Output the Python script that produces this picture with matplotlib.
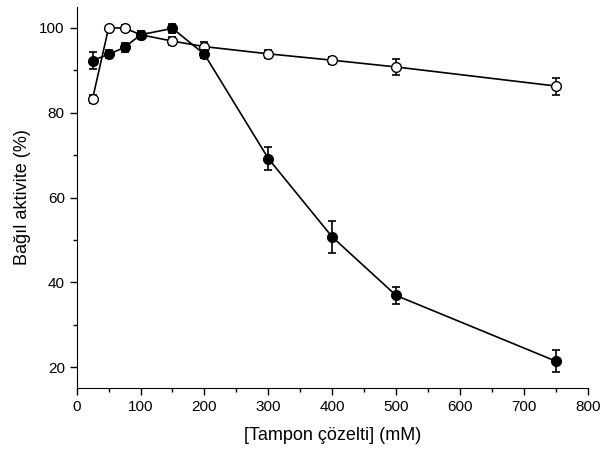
import matplotlib.pyplot as plt
from matplotlib.ticker import MultipleLocator

plt.rcParams['font.family'] = ['Liberation Sans', 'DejaVu Sans']

conc = [25, 50, 75, 100, 150, 200, 300, 400, 500, 750]
filled = [92.3, 93.8, 95.4, 98.4, 99.9, 93.8, 69.2, 50.7, 36.9, 21.4]
filled_err = [2.0, 1.0, 1.0, 1.0, 1.0, 1.0, 2.7, 3.7, 2.0, 2.6]
open_ = [83.3, 100.0, 100.0, 98.4, 96.9, 95.6, 93.9, 92.4, 90.8, 86.3]
open_err = [1.0, 0.5, 0.8, 1.0, 1.0, 1.2, 1.0, 0.8, 1.8, 2.0]

fig = plt.figure(figsize=(6, 4.51), dpi=100)
ax = fig.add_axes([0.1277, 0.139, 0.852, 0.846])

ax.errorbar(conc, filled, yerr=filled_err, fmt='-o', color='black',
            mfc='black', mec='black', ms=7, lw=1.2, elinewidth=1.2,
            capsize=3, capthick=1.2, zorder=3)
ax.errorbar(conc, open_, yerr=open_err, fmt='-o', color='black',
            mfc='white', mec='black', ms=7, lw=1.2, elinewidth=1.2,
            capsize=3, capthick=1.2, zorder=2)

ax.set_xlim(0, 800)
ax.set_ylim(15, 105)
ax.xaxis.set_major_locator(MultipleLocator(100))
ax.xaxis.set_minor_locator(MultipleLocator(50))
ax.yaxis.set_major_locator(MultipleLocator(20))
ax.yaxis.set_minor_locator(MultipleLocator(10))
ax.spines['top'].set_visible(False)
ax.spines['right'].set_visible(False)
ax.tick_params(which='major', direction='out', length=5, width=1, labelsize=11)
ax.tick_params(which='minor', direction='out', length=3, width=1)

ax.set_xlabel('[Tampon çözelti] (mM)', fontsize=13, labelpad=9)
ax.set_ylabel('Bağıl aktivite (%)', fontsize=13, labelpad=6)

fig.savefig('out.png', dpi=100)
